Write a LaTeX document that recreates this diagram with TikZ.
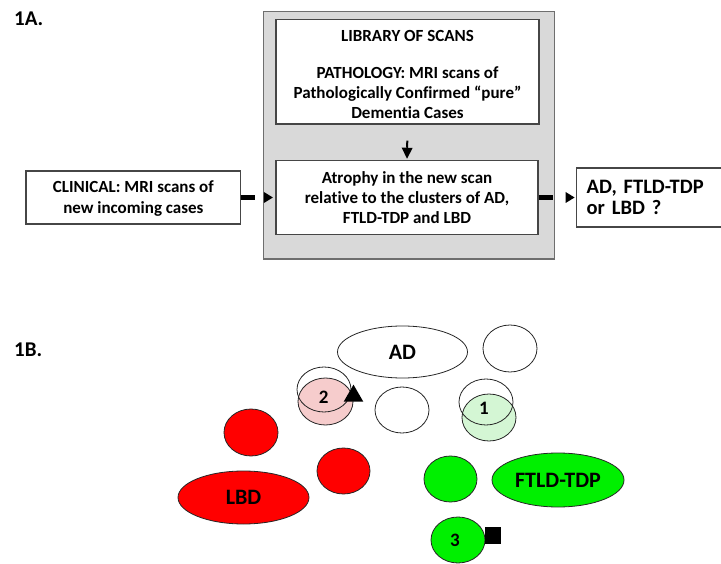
\documentclass[tikz,border=0pt]{standalone}
\usepackage{fontspec}
\setmainfont{Carlito}[Ligatures=NoCommon]
\usetikzlibrary{arrows.meta,shapes.geometric}
\frenchspacing
\definecolor{graybg}{RGB}{217,217,217}
\definecolor{grayline}{RGB}{110,110,110}
\definecolor{boxline}{RGB}{70,70,70}
\definecolor{pinkfill}{RGB}{246,204,204}
\definecolor{lgreen}{RGB}{212,246,212}
\definecolor{redfill}{RGB}{255,0,0}
\definecolor{greenfill}{RGB}{0,240,0}
\tikzset{
  graybox/.style={draw=grayline, fill=graybg, line width=1.4pt, inner sep=0pt},
  txtbox/.style={draw=boxline, fill=white, line width=1.2pt, inner sep=0pt, align=center,
     font=\bfseries\fontsize{17}{20}\selectfont},
  headlbl/.style={anchor=base west, inner sep=0pt, font=\bfseries\fontsize{21}{24}\selectfont},
  clu/.style={ellipse, draw=black!85, line width=0.8pt, inner sep=0pt},
  clulbl/.style={font=\bfseries\fontsize{22}{24}\selectfont},
  numlbl/.style={inner sep=0pt, font=\bfseries\fontsize{19}{20}\selectfont},
  thickarrow/.style={line width=4.5pt, dash pattern=on 14pt off 300pt,
     -{Triangle[length=9pt,width=11pt,line width=0pt]}},
  thinarrow/.style={line width=2pt, -{Triangle[length=11pt,width=11pt,line width=0pt]}},
  marker/.style={fill=black, inner sep=0pt}
}
\begin{document}
\begin{tikzpicture}[x=1pt,y=-1pt]
\useasboundingbox (0,0) rectangle (721,564);
% ---------- 1A ----------
\node[headlbl] (h1a) at (14,26) {1A.};
\node[graybox, minimum width=291.2pt, minimum height=247.3pt] (grp) at (409,135.4) {};
\node[txtbox, minimum width=263pt, minimum height=104.7pt] (lib) at (407.5,71.7)
  {\rule{0pt}{16.6pt}LIBRARY OF SCANS\\[16.6pt]PATHOLOGY: MRI scans of\\Pathologically Confirmed “pure”\\Dementia Cases};
\node[txtbox, minimum width=262pt, minimum height=73.3pt] (atr) at (407,197.5)
  {Atrophy in the new scan\\relative to the clusters of AD,\\FTLD-TDP and LBD};
\node[txtbox, minimum width=214.7pt, minimum height=53pt,
  font=\bfseries\fontsize{17}{20.7}\selectfont] (clin) at (133.35,197.5)
  {\rule{0pt}{13.4pt}CLINICAL: MRI scans of\\new incoming cases};
\node[txtbox, minimum width=170pt, minimum height=59pt, align=left, text width=150pt,
  inner xsep=10pt, font=\bfseries\fontsize{20.5}{21.7}\selectfont] (out) at (661.7,197.5)
  {AD, FTLD-TDP\\or LBD ?};
\draw[thickarrow, shorten >=2.5pt] (clin.east) -- (atr.west);
\draw[thickarrow, shorten >=1.5pt] (atr.east) -- (out.west);
\draw[thinarrow, shorten <=16pt, shorten >=1.5pt] (lib.south) -- (atr.north);
% ---------- 1B ----------
\node[headlbl] (h1b) at (14,356) {1B.};
\node[clu, minimum width=130pt, minimum height=52pt, clulbl] (ad) at (402.5,352) {AD};
\node[clu, minimum width=54pt, minimum height=47pt] (tr) at (510,348.5) {};
\node[clu, fill=pinkfill, minimum width=55pt, minimum height=47pt] (p2) at (325.5,401.5) {};
\node[clu, minimum width=54pt, minimum height=45pt] (o2) at (324,389.5) {};
\node[numlbl] (n2) at (323.7,397.3) {2};
\node[isosceles triangle, isosceles triangle apex angle=60, shape border rotate=90,
  marker, minimum height=17pt, minimum width=15pt] (tri) at (353.5,396) {};
\node[clu, minimum width=54pt, minimum height=46pt] (mid) at (402,410) {};
\node[clu, fill=lgreen, minimum width=54pt, minimum height=47pt] (g1) at (489,417.5) {};
\node[clu, minimum width=54pt, minimum height=46pt] (o1) at (486,402) {};
\node[numlbl] (n1) at (484,408.7) {1};
\node[clu, fill=redfill, minimum width=54pt, minimum height=47pt] (r1) at (251,432.5) {};
\node[clu, fill=redfill, minimum width=53pt, minimum height=46pt] (r2) at (343.5,471) {};
\node[clu, fill=redfill, minimum width=131pt, minimum height=53pt, clulbl] (lbd) at (243.5,497.5) {LBD};
\node[clu, fill=greenfill, minimum width=53pt, minimum height=46pt] (gr) at (450.5,479) {};
\node[clu, fill=greenfill, minimum width=132pt, minimum height=54pt, clulbl] (ftld) at (558,480) {FTLD-TDP};
\node[clu, fill=greenfill, minimum width=54pt, minimum height=46pt] (g3) at (458,540) {};
\node[numlbl] (n3) at (455,540.5) {3};
\node[marker, minimum width=16pt, minimum height=17pt] (sq) at (493,535.5) {};
\end{tikzpicture}
\end{document}
